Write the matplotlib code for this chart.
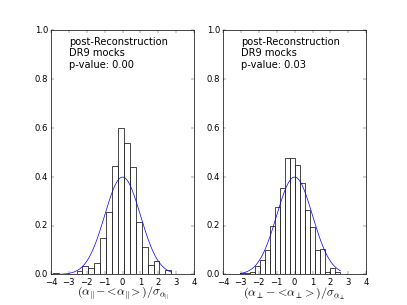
import numpy as np
import matplotlib
matplotlib.use('Agg')
import matplotlib.pyplot as plt

plt.style.use('classic')

# density heights (20 bins each)
par_lo, par_hi = -3.89, 2.72
par_heights = [0.005, 0.0, 0.0, 0.0, 0.015, 0.033, 0.027, 0.047, 0.150, 0.257,
               0.446, 0.600, 0.538, 0.440, 0.215, 0.113, 0.040, 0.056, 0.0, 0.020]

perp_lo, perp_hi = -3.03, 2.56
perp_heights = [0.005, 0.005, 0.012, 0.033, 0.058, 0.100, 0.200, 0.277, 0.356, 0.476,
                0.476, 0.448, 0.375, 0.265, 0.196, 0.100, 0.103, 0.012, 0.025, 0.012]

pvalues = [0.00, 0.03]
xlabels = [r'$(\alpha_{||}\!-\!<\!\alpha_{||}\!>)/\sigma_{\alpha_{||}}$',
           r'$(\alpha_\perp\!-\!<\!\alpha_\perp\!>)/\sigma_{\alpha_\perp}$']

panels = [(par_lo, par_hi, par_heights), (perp_lo, perp_hi, perp_heights)]

fig = plt.figure(figsize=(8, 6), dpi=50.875)
for i, (lo, hi, heights) in enumerate(panels):
    ax = fig.add_subplot(1, 2, i + 1)
    edges = np.linspace(lo, hi, len(heights) + 1)
    centers = 0.5 * (edges[:-1] + edges[1:])
    ax.hist(centers, bins=edges, weights=heights, facecolor='white',
            edgecolor='black', linewidth=1.0)
    # unit normal for comparison
    x = np.linspace(lo, hi, 200)
    ax.plot(x, np.exp(-0.5 * x**2) / np.sqrt(2 * np.pi), 'b-', linewidth=1.0)
    ax.set_xlim(-4, 4)
    ax.set_ylim(0, 1)
    ax.set_xticks(np.arange(-4, 5, 1))
    ax.set_yticks(np.arange(0, 1.01, 0.2))
    ax.text(-3.0, 0.975, 'post-Reconstruction\nDR9 mocks\np-value: %.2f' % pvalues[i],
            va='top', ha='left', fontsize=14)
    ax.set_xlabel(xlabels[i], fontsize=17, labelpad=-2)

fig.savefig('out.png', dpi=50.875)
